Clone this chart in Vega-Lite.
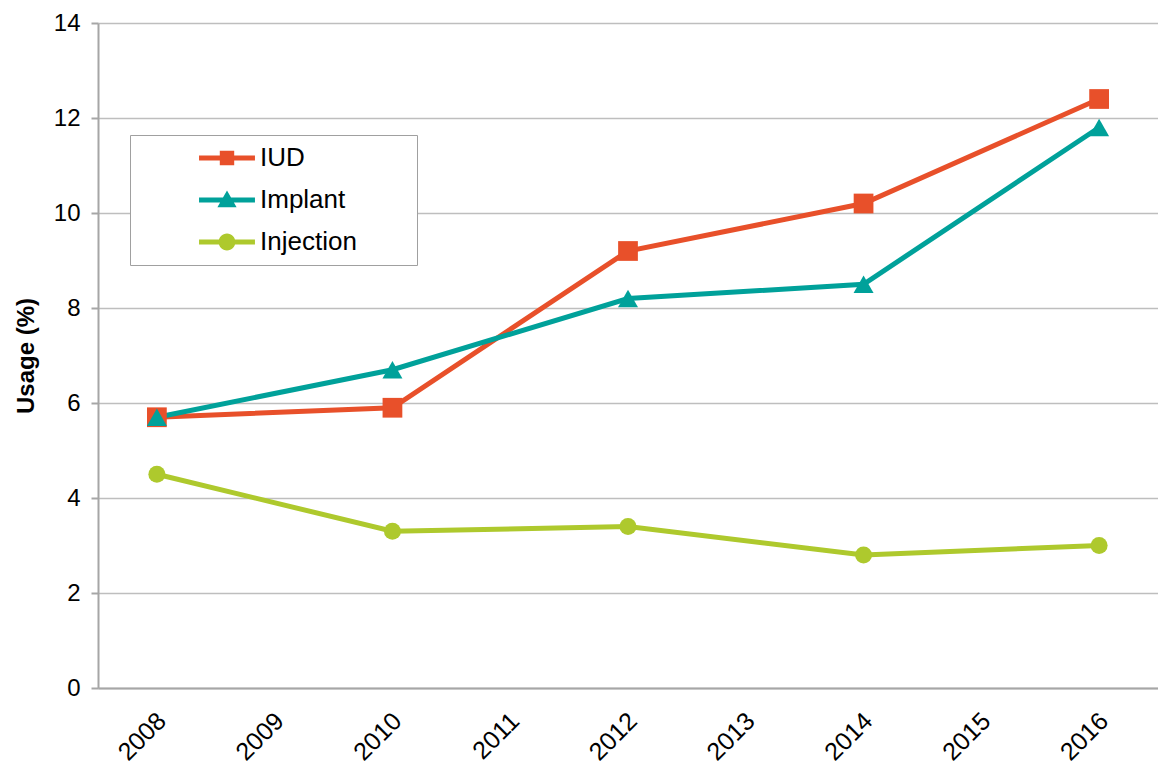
{
  "$schema": "https://vega.github.io/schema/vega-lite/v6.json",
  "width": 1060,
  "height": 665,
  "autosize": {"type": "none"},
  "padding": {"left": 98, "top": 23, "right": 0, "bottom": 77},
  "background": "white",
  "config": {
    "view": {"stroke": null},
    "font": "Liberation Sans",
    "axis": {"labelFont": "Liberation Sans", "titleFont": "Liberation Sans", "labelColor": "#000000", "titleColor": "#000000"}
  },
  "data": {
    "values": [
      {"year": "2008", "series": "IUD", "usage": 5.7},
      {"year": "2010", "series": "IUD", "usage": 5.9},
      {"year": "2012", "series": "IUD", "usage": 9.2},
      {"year": "2014", "series": "IUD", "usage": 10.2},
      {"year": "2016", "series": "IUD", "usage": 12.4},
      {"year": "2008", "series": "Implant", "usage": 5.7},
      {"year": "2010", "series": "Implant", "usage": 6.7},
      {"year": "2012", "series": "Implant", "usage": 8.2},
      {"year": "2014", "series": "Implant", "usage": 8.5},
      {"year": "2016", "series": "Implant", "usage": 11.8},
      {"year": "2008", "series": "Injection", "usage": 4.5},
      {"year": "2010", "series": "Injection", "usage": 3.3},
      {"year": "2012", "series": "Injection", "usage": 3.4},
      {"year": "2014", "series": "Injection", "usage": 2.8},
      {"year": "2016", "series": "Injection", "usage": 3.0}
    ]
  },
  "encoding": {
    "x": {
      "field": "year", "type": "ordinal",
      "scale": {"type": "point", "domain": ["2008","2009","2010","2011","2012","2013","2014","2015","2016"], "padding": 0.5},
      "axis": {"title": null, "labelAngle": -45, "labelFontSize": 25, "ticks": false, "domain": true, "domainColor": "#A6A6A6", "domainWidth": 2, "grid": false, "labelPadding": 20, "labelOffset": -4}
    },
    "y": {
      "field": "usage", "type": "quantitative",
      "scale": {"domain": [0, 14], "nice": false},
      "axis": {"title": "Usage (%)", "titleFontSize": 24, "titleFontWeight": "bold", "titlePadding": 15, "values": [0,2,4,6,8,10,12,14], "labelFontSize": 24, "labelPadding": 11, "tickSize": 7, "tickColor": "#A6A6A6", "tickWidth": 2, "domainColor": "#A6A6A6", "domainWidth": 2, "grid": true, "gridColor": "#BEBEBE", "gridWidth": 1.5}
    },
    "color": {
      "field": "series", "type": "nominal",
      "scale": {"domain": ["IUD", "Implant", "Injection"], "range": ["#E8502A", "#00A19A", "#AEC92D"]},
      "legend": {
        "title": null, "orient": "none", "legendX": 32, "legendY": 112,
        "strokeColor": "#A0A0A0", "fillColor": "white", "padding": 10,
        "labelFontSize": 26, "labelFont": "Liberation Sans", "labelColor": "#000000",
        "symbolSize": 576, "symbolOffset": 74, "labelOffset": 20, "rowPadding": 16,
        "encode": {
          "symbols": {"update": {
            "shape": {"signal": "datum.value === 'IUD' ? 'M-2.33,-0.21H2.33V0.21H-2.33Z M-0.6,-0.6H0.6V0.6H-0.6Z M15,0' : datum.value === 'Implant' ? 'M-2.33,-0.21H2.33V0.21H-2.33Z M0,-0.8L0.8,0.6L-0.8,0.6Z M15,0' : 'M-2.33,-0.21H2.33V0.21H-2.33Z M-0.7,0A0.7,0.7 0 1,1 0.7,0A0.7,0.7 0 1,1 -0.7,0Z M15,0'"},
            "fill": {"scale": "color", "field": "value"},
            "stroke": {"value": "transparent"},
            "strokeWidth": {"value": 0},
            "opacity": {"value": 1},
            "size": {"value": 576}
          }}
        }
      }
    }
  },
  "layer": [
    {"mark": {"type": "line", "strokeWidth": 5}},
    {
      "transform": [{"filter": "datum.series === 'IUD'"}],
      "mark": {"type": "point", "filled": true, "opacity": 1, "size": 390, "shape": "square"}
    },
    {
      "transform": [{"filter": "datum.series === 'Implant'"}],
      "mark": {"type": "point", "filled": true, "opacity": 1, "size": 400, "shape": "triangle-up"}
    },
    {
      "transform": [{"filter": "datum.series === 'Injection'"}],
      "mark": {"type": "point", "filled": true, "opacity": 1, "size": 290, "shape": "circle"}
    }
  ]
}
